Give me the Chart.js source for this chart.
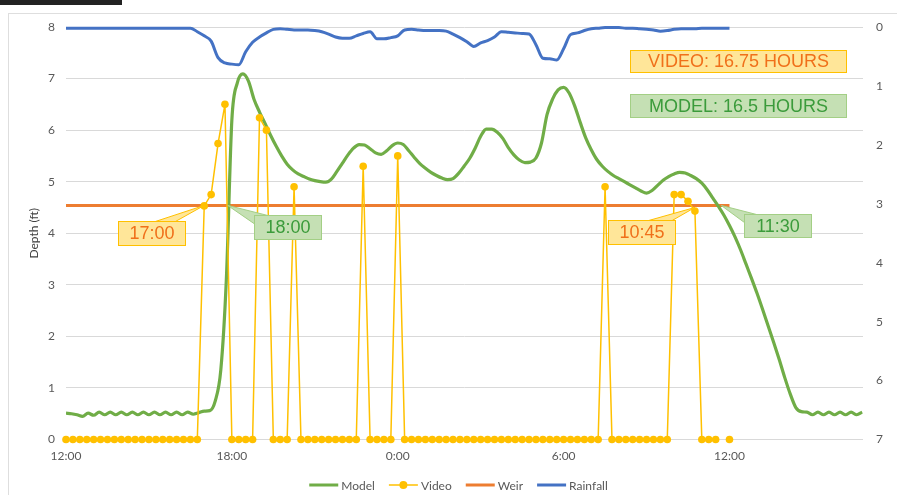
<!DOCTYPE html>
<html><head><meta charset="utf-8">
<script src="https://cdn.jsdelivr.net/npm/chart.js@4.4.1/dist/chart.umd.min.js"></script>
<style>html,body{margin:0;padding:0;background:#fff;overflow:hidden}#wrap{position:relative;width:897px;height:495px}</style>
</head><body><div id="wrap"><canvas id="c" width="897" height="495"></canvas></div>
<script>
// ---- data (hours after 12:00 on day 1) ----
const xTickHours = [0, 6, 12, 18, 24];
const xTickLabels = ['12:00', '18:00', '0:00', '6:00', '12:00'];
const seriesNames = ['Model', 'Video', 'Weir', 'Rainfall'];

const modelStartHour = 0, modelStepHours = 0.2;
const modelDepth = [
 0.51,0.50,0.48,0.45,0.51,0.47,0.53,0.48,0.53,0.48,
 0.53,0.48,0.53,0.48,0.53,0.48,0.53,0.48,0.53,0.48,
 0.53,0.48,0.53,0.49,0.52,0.55,0.56,0.75,1.35,3.1,
 6.2,6.92,7.09,6.95,6.6,6.35,6.13,5.9,5.69,5.5,
 5.34,5.23,5.15,5.1,5.05,5.02,5.0,4.99,5.05,5.2,
 5.36,5.52,5.65,5.72,5.71,5.64,5.56,5.53,5.6,5.7,
 5.75,5.72,5.6,5.47,5.35,5.26,5.18,5.12,5.07,5.04,
 5.06,5.16,5.3,5.45,5.65,5.88,6.02,6.02,5.96,5.84,
 5.66,5.52,5.42,5.37,5.38,5.46,5.75,6.3,6.6,6.78,
 6.83,6.72,6.47,6.15,5.85,5.62,5.43,5.3,5.2,5.12,
 5.06,5.0,4.94,4.88,4.82,4.78,4.83,4.93,5.03,5.1,
 5.15,5.18,5.17,5.12,5.06,4.97,4.84,4.68,4.52,4.35,
 4.15,3.93,3.68,3.4,3.12,2.83,2.52,2.2,1.88,1.55,
 1.2,0.88,0.62,0.54,0.53,0.48,0.53,0.48,0.53,0.48,
 0.53,0.48,0.53,0.48,0.53
];

const videoStartHour = 0, videoStepHours = 0.25;
const videoDepth = [
 0,0,0,0,0,0,0,0,0,0,0,0,0,0,0,0,0,0,0,0,
 4.53,4.75,5.74,6.5,
 0,0,0,0,
 6.24,6.0,
 0,0,0,
 4.9,
 0,0,0,0,0,0,0,0,0,
 5.3,
 0,0,0,0,
 5.5,
 0,0,0,0,0,0,0,0,0,0,0,0,0,0,0,0,0,0,0,0,0,0,0,0,0,0,0,0,0,
 4.9,
 0,0,0,0,0,0,0,0,0,
 4.75,4.75,4.62,4.43,
 0,0,0,
 null,
 0
];

const weirHours = [0, 24];
const weirDepth = [4.54, 4.54];

const rainStartHour = 0, rainStepHours = 0.25;
const rainfall = [
 0.02,0.02,0.02,0.02,0.02,0.02,0.02,0.02,0.02,0.02,
 0.02,0.02,0.02,0.02,0.02,0.02,0.02,0.02,0.02,
 0.08,0.15,0.24,0.52,0.61,0.63,0.64,0.42,0.26,0.17,
 0.1,0.04,0.03,0.04,0.05,0.05,0.05,0.06,0.08,0.12,
 0.17,0.19,0.19,0.15,0.11,0.08,0.2,0.2,0.18,0.15,
 0.05,0.04,0.05,0.06,0.06,0.06,0.07,0.12,0.18,0.25,
 0.33,0.27,0.23,0.17,0.08,0.09,0.1,0.11,0.12,0.3,
 0.53,0.54,0.56,0.37,0.13,0.1,0.06,0.03,0.02,0.01,
 0.01,0.01,0.02,0.02,0.03,0.04,0.05,0.07,0.06,0.04,
 0.03,0.03,0.03,0.02,0.02,0.02,0.02,0.02
];

// ---- annotations (text + anchor in data units) ----
const callouts = [
 {text:'17:00', kind:'video', atHour:5, atDepth:4.54, boxHour:3.1, boxDepth:4.0, w:67, h:24, tail:[[0.55,0],[0.85,0]]},
 {text:'18:00', kind:'model', atHour:5.85, atDepth:4.54, boxHour:8.0, boxDepth:4.12, w:67, h:24, tail:[[0,0.35],[0.2,0]]},
 {text:'10:45', kind:'video', atHour:22.75, atDepth:4.5, boxHour:20.82, boxDepth:4.03, w:67, h:24, tail:[[0.6,0],[0.95,0]]},
 {text:'11:30', kind:'model', atHour:23.7, atDepth:4.54, boxHour:25.73, boxDepth:4.16, w:67, h:23, tail:[[0,0.35],[0.18,0]]},
 {text:'VIDEO: 16.75 HOURS', kind:'video', boxHour:24.32, boxDepth:7.34, w:216, h:22},
 {text:'MODEL: 16.5 HOURS', kind:'model', boxHour:24.32, boxDepth:6.48, w:216, h:23}
];
const calloutStyles = {
 video:{fill:'#FFE699', border:'#FFC000', text:'#F0701A'},
 model:{fill:'#C5E0B4', border:'#A3CF85', text:'#3B9B3B'}
};

const toPoints = (start, step, arr) => arr.map((v, i) => ({x: start + i * step, y: v}));

const FONT = 'Lato, "Noto Sans", sans-serif';
const GREY = '#595959';

const framePlugin = {
 id:'frame',
 beforeDraw(chart){
  const ctx = chart.ctx; ctx.save();
  ctx.fillStyle = '#fff'; ctx.fillRect(0,0,chart.width,chart.height);
  ctx.strokeStyle = '#dedede'; ctx.lineWidth = 1;
  ctx.strokeRect(8.5, 13.5, chart.width + 20, chart.height + 20);
  ctx.fillStyle = '#222'; ctx.fillRect(0,0,122,5);
  ctx.restore();
 }
};

const calloutPlugin = {
 id:'callouts',
 afterDatasetsDraw(chart){
  const {ctx, scales:{x, y}} = chart;
  callouts.forEach(c => {
   const st = calloutStyles[c.kind];
   const cx = x.getPixelForValue(c.boxHour), cy = y.getPixelForValue(c.boxDepth);
   const L = Math.round(cx - c.w/2) + 0.5, T = Math.round(cy - c.h/2) + 0.5;
   ctx.save();
   ctx.lineWidth = 1;
   if (c.tail) {
    const ax = x.getPixelForValue(c.atHour), ay = y.getPixelForValue(c.atDepth);
    const p1 = [L + c.tail[0][0]*c.w, T + c.tail[0][1]*c.h];
    const p2 = [L + c.tail[1][0]*c.w, T + c.tail[1][1]*c.h];
    ctx.beginPath(); ctx.moveTo(p1[0], p1[1]); ctx.lineTo(ax, ay); ctx.lineTo(p2[0], p2[1]); ctx.closePath();
    ctx.fillStyle = st.fill; ctx.fill(); ctx.strokeStyle = st.border; ctx.stroke();
   }
   ctx.fillStyle = st.fill; ctx.fillRect(L, T, c.w, c.h);
   ctx.strokeStyle = st.border; ctx.strokeRect(L, T, c.w, c.h);
   ctx.fillStyle = st.text; ctx.font = '18px "Liberation Sans", Arial, sans-serif';
   ctx.textAlign = 'center'; ctx.textBaseline = 'middle';
   ctx.fillText(c.text, L + c.w/2, T + c.h/2 + 1);
   ctx.restore();
  });
 }
};

const legendPlugin = {
 id:'xlLegend',
 afterDraw(chart){
  const ctx = chart.ctx; ctx.save();
  ctx.font = '12px ' + FONT; ctx.textBaseline = 'middle'; ctx.textAlign = 'left';
  const lineLen = 29, gap = 3, itemGap = 14, yy = 485;
  const items = chart.data.datasets.map(ds => ({label: ds.label, color: ds.borderColor, dot: ds.pointRadius > 0, w: ctx.measureText(ds.label).width}));
  const total = items.reduce((s, it) => s + lineLen + gap + it.w, 0) + itemGap * (items.length - 1);
  let xx = (chart.chartArea.left + chart.chartArea.right) / 2 - 6 - total / 2;
  items.forEach(it => {
   ctx.strokeStyle = it.color; ctx.lineWidth = it.dot ? 1.5 : 3;
   ctx.beginPath(); ctx.moveTo(xx, yy); ctx.lineTo(xx + lineLen, yy); ctx.stroke();
   if (it.dot) { ctx.fillStyle = it.color; ctx.beginPath(); ctx.arc(xx + lineLen/2, yy, 4, 0, Math.PI*2); ctx.fill(); }
   ctx.fillStyle = GREY; ctx.fillText(it.label, xx + lineLen + gap, yy + 1);
   xx += lineLen + gap + it.w + itemGap;
  });
  ctx.restore();
 }
};

new Chart(document.getElementById('c'), {
 type:'line',
 data:{
  datasets:[
   {label:seriesNames[0], data:toPoints(modelStartHour, modelStepHours, modelDepth), borderColor:'#70AD47', backgroundColor:'#70AD47', borderWidth:3.2, pointRadius:0, cubicInterpolationMode:'monotone', yAxisID:'y', order:2},
   {label:seriesNames[1], data:toPoints(videoStartHour, videoStepHours, videoDepth), borderColor:'#FFC000', backgroundColor:'#FFC000', borderWidth:1.5, pointRadius:3.8, pointBorderWidth:0, pointBackgroundColor:'#FFC000', tension:0, spanGaps:false, clip:false, yAxisID:'y', order:1},
   {label:seriesNames[2], data:weirHours.map((h,i)=>({x:h, y:weirDepth[i]})), borderColor:'#ED7D31', backgroundColor:'#ED7D31', borderWidth:3, pointRadius:0, yAxisID:'y', order:3},
   {label:seriesNames[3], data:toPoints(rainStartHour, rainStepHours, rainfall), borderColor:'#4472C4', backgroundColor:'#4472C4', borderWidth:3, pointRadius:0, cubicInterpolationMode:'monotone', clip:false, yAxisID:'y2', order:4}
  ]
 },
 options:{
  responsive:false, animation:false, devicePixelRatio:1,
  layout:{padding:{top:27, left:0, right:0, bottom:0}},
  plugins:{legend:{display:false}, tooltip:{enabled:false}},
  scales:{
   x:{type:'linear', min:0, max:28.83,
      afterBuildTicks: s => { s.ticks = xTickHours.map(v => ({value:v})); },
      afterFit: s => { s.height = 55.5; },
      grid:{display:false, drawTicks:false}, border:{display:false},
      ticks:{padding:9, color:GREY, font:{family:FONT, size:12}, maxRotation:0, autoSkip:false,
             callback:(v, i) => xTickLabels[i]}},
   y:{position:'left', min:0, max:8,
      afterFit: s => { s.width = 66; },
      grid:{color:'#d9d9d9', lineWidth:1, drawTicks:false}, border:{display:false},
      ticks:{stepSize:1, padding:11, color:GREY, font:{family:FONT, size:12}},
      title:{display:true, text:'Depth (ft)', color:'#404040', font:{family:FONT, size:12}, padding:{top:27, bottom:0}}},
   y2:{position:'right', min:0, max:7, reverse:true,
      afterFit: s => { s.width = 34; },
      grid:{drawOnChartArea:false, drawTicks:false}, border:{display:false},
      ticks:{stepSize:1, padding:13, color:GREY, font:{family:FONT, size:12}}}
  }
 },
 plugins:[framePlugin, calloutPlugin, legendPlugin]
});
</script>
</body></html>
